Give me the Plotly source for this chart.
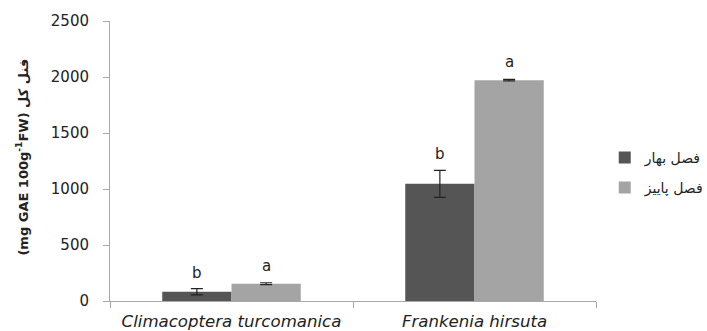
import plotly.graph_objects as go

categories = ["Climacoptera turcomanica", "Frankenia hirsuta"]
series_names = ["فصل بهار", "فصل پاییز"]
spring_values = [83, 1046]
spring_err = [28, 120]
autumn_values = [155, 1972]
autumn_err = [8, 6]
spring_letters = ["b", "b"]
autumn_letters = ["a", "a"]
y_ticks = [0, 500, 1000, 1500, 2000, 2500]
y_title = "(mg GAE 100g<sup>-1</sup>FW) فنل کل"

fig = go.Figure()
fig.add_trace(go.Bar(
    x=categories, y=spring_values, name=series_names[0], legend="legend",
    marker=dict(color="#555555", line=dict(width=0)),
    error_y=dict(type="data", array=spring_err, color="#222222", thickness=1.2, width=6),
))
fig.add_trace(go.Bar(
    x=categories, y=autumn_values, name=series_names[1], legend="legend2",
    marker=dict(color="#a4a4a4", line=dict(width=0)),
    error_y=dict(type="data", array=autumn_err, color="#222222", thickness=1.2, width=6),
))

letter_font = dict(family="DejaVu Sans", size=15, color="#222222")
annotations = []
for i, c in enumerate(categories):
    annotations.append(dict(
        x=c, y=spring_values[i] + spring_err[i], text=spring_letters[i],
        xref="x", yref="y", xshift=-34.5, yshift=5, yanchor="bottom",
        showarrow=False, font=letter_font))
    annotations.append(dict(
        x=c, y=autumn_values[i] + autumn_err[i], text=autumn_letters[i],
        xref="x", yref="y", xshift=34.5, yshift=6, yanchor="bottom",
        showarrow=False, font=letter_font))
annotations.append(dict(
    x=-0.18, y=0.514, xref="paper", yref="paper", text=y_title, textangle=-90,
    xanchor="center", yanchor="middle", showarrow=False,
    font=dict(family="DejaVu Sans", size=13, color="#222222", weight="bold")))

legend_common = dict(xanchor="left", yanchor="middle",
                     font=dict(family="DejaVu Sans", size=14, color="#222222"),
                     itemwidth=30, bgcolor="rgba(0,0,0,0)")

fig.update_layout(
    width=707, height=331,
    margin=dict(l=110, r=111, t=21, b=30, autoexpand=False),
    paper_bgcolor="white", plot_bgcolor="white",
    barmode="group", bargap=0.43, bargroupgap=0,
    showlegend=True,
    legend=dict(x=1.018, y=(301 - 158) / 280, **legend_common),
    legend2=dict(x=1.018, y=(301 - 188) / 280, **legend_common),
    annotations=annotations,
    xaxis=dict(
        showline=True, linecolor="#a8a8a8", linewidth=1,
        ticks="outside", tickson="boundaries", ticklen=6, tickcolor="#a8a8a8",
        ticklabelstandoff=5,
        tickfont=dict(family="DejaVu Sans", size=16.6, color="#222222", style="italic"),
        showgrid=False, zeroline=False, automargin=False,
    ),
    yaxis=dict(
        range=[0, 2500], tickvals=y_ticks,
        showline=True, linecolor="#a8a8a8", linewidth=1,
        ticks="outside", ticklen=6, tickcolor="#a8a8a8", ticklabelstandoff=11,
        tickfont=dict(family="DejaVu Sans", size=15, color="#222222"),
        showgrid=False, zeroline=False, automargin=False,
    ),
)

fig.write_html("out.html", config={"displayModeBar": False},
               post_script="document.body.style.margin='0px';")
